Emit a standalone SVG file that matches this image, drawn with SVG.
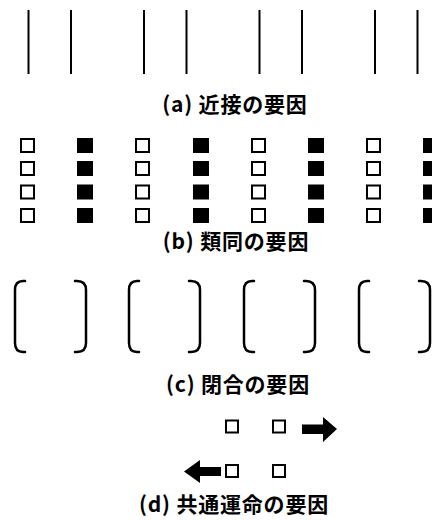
<svg xmlns="http://www.w3.org/2000/svg" width="432" height="520" viewBox="0 0 432 520">
<style>
.ln{stroke:#000;stroke-width:2;fill:none}
.o{fill:#fff;stroke:#000;stroke-width:2}
.f{fill:#000}
.br{stroke:#000;stroke-width:2.5;fill:none;stroke-linecap:round}
.lbl{font-family:"Noto Sans CJK JP","Noto Sans",sans-serif;font-weight:bold;font-size:21px;letter-spacing:0.8px;text-anchor:middle;fill:#000}
</style>
<rect width="432" height="520" fill="#fff"/>
<g id="a">
<line class="ln" x1="28.5" y1="10" x2="28.5" y2="74"/>
<line class="ln" x1="71" y1="10" x2="71" y2="74"/>
<line class="ln" x1="144" y1="10" x2="144" y2="74"/>
<line class="ln" x1="186.5" y1="10" x2="186.5" y2="74"/>
<line class="ln" x1="259.5" y1="10" x2="259.5" y2="74"/>
<line class="ln" x1="302" y1="10" x2="302" y2="74"/>
<line class="ln" x1="375" y1="10" x2="375" y2="74"/>
<line class="ln" x1="417.5" y1="10" x2="417.5" y2="74"/>
<text class="lbl" x="235" y="112">(a) 近接の要因</text>
</g>
<g id="b">
<g class="o">
<rect x="21" y="139" width="13" height="13"/><rect x="21" y="162" width="13" height="13"/><rect x="21" y="185.5" width="13" height="13"/><rect x="21" y="209" width="13" height="13"/>
<rect x="136" y="139" width="13" height="13"/><rect x="136" y="162" width="13" height="13"/><rect x="136" y="185.5" width="13" height="13"/><rect x="136" y="209" width="13" height="13"/>
<rect x="252" y="139" width="13" height="13"/><rect x="252" y="162" width="13" height="13"/><rect x="252" y="185.5" width="13" height="13"/><rect x="252" y="209" width="13" height="13"/>
<rect x="367" y="139" width="13" height="13"/><rect x="367" y="162" width="13" height="13"/><rect x="367" y="185.5" width="13" height="13"/><rect x="367" y="209" width="13" height="13"/>
</g>
<g class="f">
<rect x="77" y="138" width="16" height="15"/><rect x="77" y="161" width="16" height="15"/><rect x="77" y="184.5" width="16" height="15"/><rect x="77" y="208" width="16" height="15"/>
<rect x="193" y="138" width="16" height="15"/><rect x="193" y="161" width="16" height="15"/><rect x="193" y="184.5" width="16" height="15"/><rect x="193" y="208" width="16" height="15"/>
<rect x="308" y="138" width="16" height="15"/><rect x="308" y="161" width="16" height="15"/><rect x="308" y="184.5" width="16" height="15"/><rect x="308" y="208" width="16" height="15"/>
<rect x="423" y="138" width="16" height="15"/><rect x="423" y="161" width="16" height="15"/><rect x="423" y="184.5" width="16" height="15"/><rect x="423" y="208" width="16" height="15"/>
</g>
<text class="lbl" x="236" y="249">(b) 類同の要因</text>
</g>
<g id="c">
<path class="br" d="M25 281 H23 Q15 281 15 290 V343 Q15 352 23 352 H25"/>
<path class="br" d="M75 281 H77 Q86 281 86 290 V343 Q86 352 77 352 H75"/>
<path class="br" d="M139 281 H137 Q129 281 129 290 V343 Q129 352 137 352 H139"/>
<path class="br" d="M189 281 H191 Q200 281 200 290 V343 Q200 352 191 352 H189"/>
<path class="br" d="M254 281 H252 Q244 281 244 290 V343 Q244 352 252 352 H254"/>
<path class="br" d="M304 281 H306 Q315 281 315 290 V343 Q315 352 306 352 H304"/>
<path class="br" d="M369 281 H367 Q359 281 359 290 V343 Q359 352 367 352 H369"/>
<path class="br" d="M419 281 H421 Q430 281 430 290 V343 Q430 352 421 352 H419"/>
<text class="lbl" x="238" y="392">(c) 閉合の要因</text>
</g>
<g id="d">
<rect class="o" x="226" y="420.5" width="12" height="12"/>
<rect class="o" x="273" y="420.5" width="12" height="12"/>
<rect class="o" x="226" y="465" width="12" height="12"/>
<rect class="o" x="273" y="465" width="12" height="12"/>
<polygon class="f" points="302,424.5 323,424.5 323,417 337,429 323,442 323,434 302,434"/>
<polygon class="f" points="221,467 200,467 200,460 184,471.5 200,483 200,476 221,476"/>
<text class="lbl" x="234" y="512">(d) 共通運命の要因</text>
</g>
</svg>
